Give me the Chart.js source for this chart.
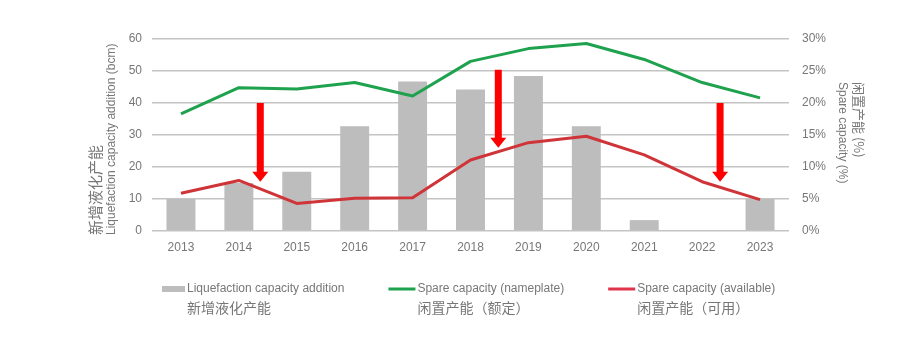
<!DOCTYPE html>
<html>
<head>
<meta charset="utf-8">
<script src="https://cdn.jsdelivr.net/npm/chart.js@4/dist/chart.umd.min.js"></script>
<style>
  html, body { margin: 0; padding: 0; background: #fff; }
  #wrap { width: 923px; height: 340px; position: relative; }
</style>
</head>
<body>
<div id="wrap"><canvas id="chart" width="923" height="340"></canvas></div>
<script>
// Years on the category axis
const years = ['2013', '2014', '2015', '2016', '2017', '2018', '2019', '2020', '2021', '2022', '2023'];

// New liquefaction capacity (bcm), left axis
const capacityAddition = [10, 15, 18.5, 32.7, 46.7, 44.2, 48.4, 32.7, 3.4, 0, 10];

// Spare capacity (%), right axis
const spareNameplate = [18.3, 22.4, 22.2, 23.2, 21.1, 26.5, 28.5, 29.3, 26.8, 23.2, 20.8];
const spareAvailable = [5.9, 7.9, 4.3, 5.1, 5.2, 11.1, 13.8, 14.8, 11.9, 7.7, 4.9];

// Axis ranges
const leftTicks = { min: 0, max: 60, step: 10 };
const rightTicks = { min: 0, max: 30, step: 5 };

// Downward arrows: category position and start/end in spare-capacity %
const arrowCategory = [1.37, 5.48, 9.31];
const arrowFromPct = [20, 25.2, 20];
const arrowToPct = [7.7, 13.0, 7.7];

// Legend and axis captions
const legendEn = ['Liquefaction capacity addition', 'Spare capacity (nameplate)', 'Spare capacity (available)'];
const legendZh = ['新增液化产能', '闲置产能（额定）', '闲置产能（可用）'];
const leftTitle = ['新增液化产能', 'Liquefaction capacity addition (bcm)'];
const rightTitle = ['Spare capacity (%)', '闲置产能 (%)'];

const TEXT = '#777777';
const GRID = '#c4c4c4';
const BAR = '#bdbdbd';
const GREEN = '#1ea24e';
const RED = '#cf3438';
const LEGEND_RED = '#e0344a';
const ARROW = '#ff0000';
const LATIN = '"Liberation Sans", Arial, sans-serif';
const CJK = '"Noto Sans CJK SC", sans-serif';

// Red block arrows showing the gap between nameplate and available capacity
const arrowPlugin = {
  id: 'gapArrows',
  afterDatasetsDraw(chart) {
    const { ctx, scales } = chart;
    ctx.save();
    ctx.fillStyle = ARROW;
    arrowCategory.forEach((c, i) => {
      const x = scales.x.getPixelForValue(c);
      const y0 = scales.y1.getPixelForValue(arrowFromPct[i]);
      const y1 = scales.y1.getPixelForValue(arrowToPct[i]);
      const shaft = 3.5, head = 8, headLen = 10;
      ctx.beginPath();
      ctx.moveTo(x - shaft, y0);
      ctx.lineTo(x + shaft, y0);
      ctx.lineTo(x + shaft, y1 - headLen);
      ctx.lineTo(x + head, y1 - headLen);
      ctx.lineTo(x, y1);
      ctx.lineTo(x - head, y1 - headLen);
      ctx.lineTo(x - shaft, y1 - headLen);
      ctx.closePath();
      ctx.fill();
    });
    ctx.restore();
  }
};

// Rotated two-line axis captions
const captionPlugin = {
  id: 'axisCaptions',
  afterDraw(chart) {
    const { ctx, chartArea } = chart;
    ctx.save();
    ctx.fillStyle = TEXT;
    ctx.textBaseline = 'middle';
    // left: reads bottom to top, starting near the baseline
    ctx.save();
    ctx.translate(chartArea.left - 57, chartArea.bottom + 4);
    ctx.rotate(-Math.PI / 2);
    ctx.textAlign = 'left';
    ctx.font = '15px ' + CJK;
    ctx.fillText(leftTitle[0], 0, 0);
    ctx.font = '12px ' + LATIN;
    ctx.fillText(leftTitle[1], 0, 17);
    ctx.restore();
    // right: reads top to bottom
    ctx.save();
    ctx.translate(chartArea.right + 53, chartArea.top + 43);
    ctx.rotate(Math.PI / 2);
    ctx.textAlign = 'left';
    ctx.font = '12px ' + LATIN;
    ctx.fillText(rightTitle[0], 0, 0);
    ctx.font = '13px ' + CJK;
    ctx.fillText(rightTitle[1], 0, -17);
    ctx.restore();
    ctx.restore();
  }
};

// Bilingual legend below the plot
const legendPlugin = {
  id: 'bilingualLegend',
  afterDraw(chart) {
    const { ctx } = chart;
    const y1 = 289, y2 = 308;
    const colors = [BAR, GREEN, LEGEND_RED];
    let x = 162;
    ctx.save();
    ctx.textBaseline = 'middle';
    ctx.textAlign = 'left';
    legendEn.forEach((label, i) => {
      const symW = i === 0 ? 23 : 27;
      ctx.fillStyle = colors[i];
      if (i === 0) ctx.fillRect(x, y1 - 3, symW, 6);
      else ctx.fillRect(x, y1 - 1.5, symW, 3);
      const tx = x + symW + 2;
      ctx.fillStyle = TEXT;
      ctx.font = '12px ' + LATIN;
      ctx.fillText(label, tx, y1);
      const w1 = ctx.measureText(label).width;
      ctx.font = '14px ' + CJK;
      ctx.fillText(legendZh[i], tx, y2);
      const w2 = ctx.measureText(legendZh[i]).width;
      x = tx + Math.max(w1, w2) + 44;
    });
    ctx.restore();
  }
};

new Chart(document.getElementById('chart'), {
  data: {
    labels: years,
    datasets: [
      {
        type: 'line',
        label: legendEn[1],
        data: spareNameplate,
        yAxisID: 'y1',
        borderColor: GREEN,
        borderWidth: 3,
        pointRadius: 0,
        tension: 0,
        borderJoinStyle: 'round',
        order: 0
      },
      {
        type: 'line',
        label: legendEn[2],
        data: spareAvailable,
        yAxisID: 'y1',
        borderColor: RED,
        borderWidth: 3,
        pointRadius: 0,
        tension: 0,
        borderJoinStyle: 'round',
        order: 0
      },
      {
        type: 'bar',
        label: legendEn[0],
        data: capacityAddition,
        yAxisID: 'y',
        backgroundColor: BAR,
        barPercentage: 0.5,
        categoryPercentage: 1.0,
        order: 1
      }
    ]
  },
  options: {
    responsive: false,
    animation: false,
    devicePixelRatio: 1,
    layout: { padding: { left: 86, right: 0, top: 39, bottom: 79 } },
    plugins: { legend: { display: false }, tooltip: { enabled: false } },
    scales: {
      x: {
        grid: { display: false, drawTicks: false },
        border: { display: false },
        ticks: { color: TEXT, font: { family: LATIN, size: 12 }, padding: 9, maxRotation: 0 },
        afterFit(s) { s.height = 30; }
      },
      y: {
        position: 'left',
        min: leftTicks.min,
        max: leftTicks.max,
        grid: { color: GRID, lineWidth: 1.6, drawTicks: false },
        border: { display: false },
        ticks: { stepSize: leftTicks.step, color: TEXT, font: { family: LATIN, size: 12 }, padding: 10 },
        afterFit(s) { s.width = 66; }
      },
      y1: {
        position: 'right',
        min: rightTicks.min,
        max: rightTicks.max,
        grid: { display: false, drawTicks: false },
        border: { display: false },
        ticks: {
          stepSize: rightTicks.step,
          color: TEXT,
          font: { family: LATIN, size: 12 },
          padding: 13,
          callback: v => v + '%'
        },
        afterFit(s) { s.width = 134; }
      }
    }
  },
  plugins: [arrowPlugin, captionPlugin, legendPlugin]
});
</script>
</body>
</html>
